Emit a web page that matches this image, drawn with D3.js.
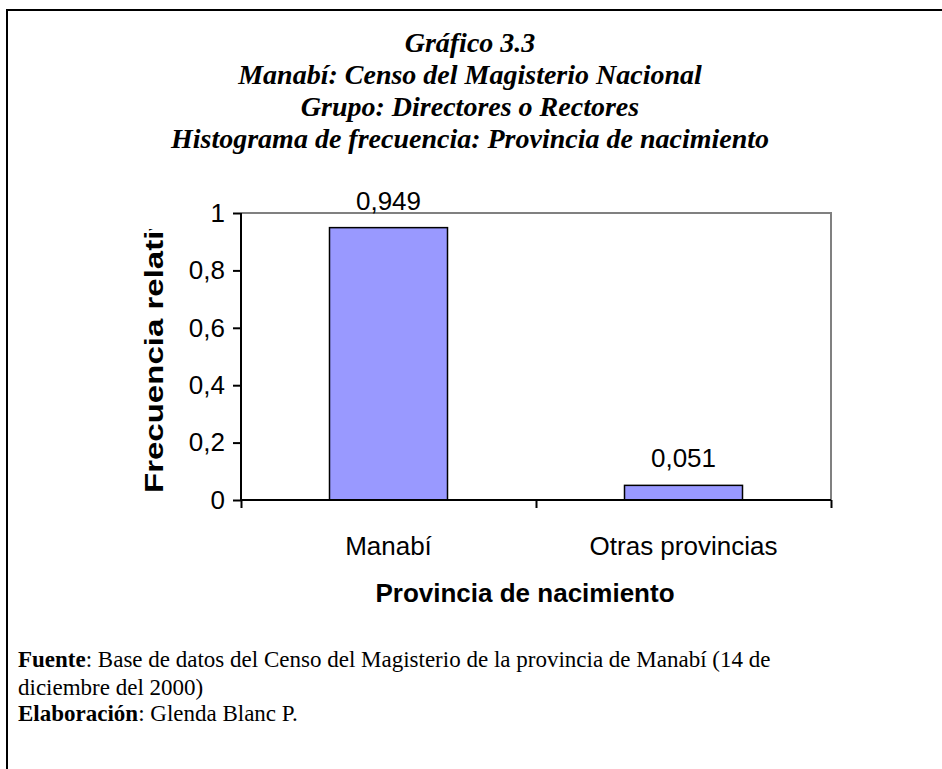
<!DOCTYPE html>
<html><head><meta charset="utf-8">
<script src="https://cdn.jsdelivr.net/npm/d3@7"></script>
<style>body{margin:0;background:#fff}svg{display:block}</style>
</head><body>
<script>
const categories = ["Manabí", "Otras provincias"];
const values = [0.949, 0.051];
const valueLabels = ["0,949", "0,051"];
const yTicks = [0, 0.2, 0.4, 0.6, 0.8, 1];
const yTickLabels = ["0", "0,2", "0,4", "0,6", "0,8", "1"];
const titleLines = ["Gráfico 3.3", "Manabí: Censo del Magisterio Nacional", "Grupo: Directores o Rectores", "Histograma de frecuencia: Provincia de nacimiento"];

(function () {
const W = 942, H = 769;
const svg = d3.select("body").append("svg").attr("width", W).attr("height", H);

// outer frame
svg.append("rect").attr("x", 7).attr("y", 10).attr("width", 1000).attr("height", 1000)
  .attr("fill", "none").attr("stroke", "#000").attr("stroke-width", 2);

// title
svg.append("g").selectAll("text").data(titleLines).join("text")
  .attr("x", 470).attr("y", (d, i) => 52 + i * 32)
  .attr("text-anchor", "middle")
  .attr("font-family", "Liberation Serif, Times New Roman, serif")
  .attr("font-style", "italic").attr("font-weight", "bold").attr("font-size", 28)
  .text(d => d);

const pL = 241, pR = 831, pT = 213, pB = 500;
const x = d3.scaleBand().domain(categories).range([pL, pR]).paddingInner(0.6).paddingOuter(0.3);
const y = d3.scaleLinear().domain([0, 1]).range([pB, pT]);
const sans = "Liberation Sans, Arial, sans-serif";

// plot frame top/right gray
svg.append("path").attr("d", `M${pL},${pT}H${pR}V${pB}`)
  .attr("fill", "none").attr("stroke", "#808080").attr("stroke-width", 2);

// bars
svg.append("g").selectAll("rect").data(values).join("rect")
  .attr("x", (d, i) => x(categories[i]))
  .attr("y", d => y(d))
  .attr("width", x.bandwidth())
  .attr("height", d => pB - y(d))
  .attr("fill", "#9999FF").attr("stroke", "#000").attr("stroke-width", 1.5);

// value labels
svg.append("g").selectAll("text").data(values).join("text")
  .attr("x", (d, i) => x(categories[i]) + x.bandwidth() / 2)
  .attr("y", d => y(d) - 18)
  .attr("text-anchor", "middle")
  .attr("font-family", sans).attr("font-size", 26)
  .text((d, i) => valueLabels[i]);

// y axis
const yAxis = d3.axisLeft(y).tickValues(yTicks).tickSize(8).tickPadding(8)
  .tickFormat((d, i) => yTickLabels[i]);
const gy = svg.append("g").attr("transform", `translate(${pL},0)`).call(yAxis);
gy.select(".domain").attr("stroke", "#000").attr("stroke-width", 2).attr("d", `M0,${pB}V${pT}`);
gy.selectAll(".tick line").attr("stroke", "#000").attr("stroke-width", 2);
gy.selectAll(".tick text").attr("font-family", sans).attr("font-size", 26).attr("fill", "#000");

// x axis: ticks at band boundaries
const xBound = d3.scaleLinear().domain([0, categories.length]).range([pL, pR]);
const gx = svg.append("g").attr("transform", `translate(0,${pB})`)
  .call(d3.axisBottom(xBound).tickValues(d3.range(categories.length + 1)).tickSize(8).tickFormat(""));
gx.select(".domain").attr("stroke", "#000").attr("stroke-width", 2).attr("d", `M${pL},0H${pR}`);
gx.selectAll(".tick line").attr("stroke", "#000").attr("stroke-width", 2);

// category labels
svg.append("g").selectAll("text").data(categories).join("text")
  .attr("x", d => xBound(categories.indexOf(d) + 0.5))
  .attr("y", 555)
  .attr("text-anchor", "middle")
  .attr("font-family", sans).attr("font-size", 26)
  .text(d => d);

// x axis title
svg.append("text").attr("x", 525).attr("y", 602).attr("text-anchor", "middle")
  .attr("font-family", sans).attr("font-weight", "bold").attr("font-size", 26)
  .text("Provincia de nacimiento");

// y axis title, clipped (stretched along its direction as in the original)
svg.append("clipPath").attr("id", "yclip").append("rect")
  .attr("x", 100).attr("y", 229).attr("width", 100).attr("height", 300);
svg.append("g").attr("clip-path", "url(#yclip)")
  .append("text").attr("transform", "translate(163,493) rotate(-90) scale(1.27,1)")
  .attr("text-anchor", "start")
  .attr("font-family", sans).attr("font-weight", "bold").attr("font-size", 26)
  .text("Frecuencia relativa");

// footer
const foot = svg.append("g").attr("font-family", "Liberation Serif, Times New Roman, serif").attr("font-size", 23);
const t1 = foot.append("text").attr("x", 18).attr("y", 667);
t1.append("tspan").attr("font-weight", "bold").text("Fuente");
t1.append("tspan").text(": Base de datos del Censo del Magisterio de la provincia de Manabí (14 de");
foot.append("text").attr("x", 18).attr("y", 695).text("diciembre del 2000)");
const t3 = foot.append("text").attr("x", 18).attr("y", 721);
t3.append("tspan").attr("font-weight", "bold").text("Elaboración");
t3.append("tspan").text(": Glenda Blanc P.");
})();
</script>
</body></html>
